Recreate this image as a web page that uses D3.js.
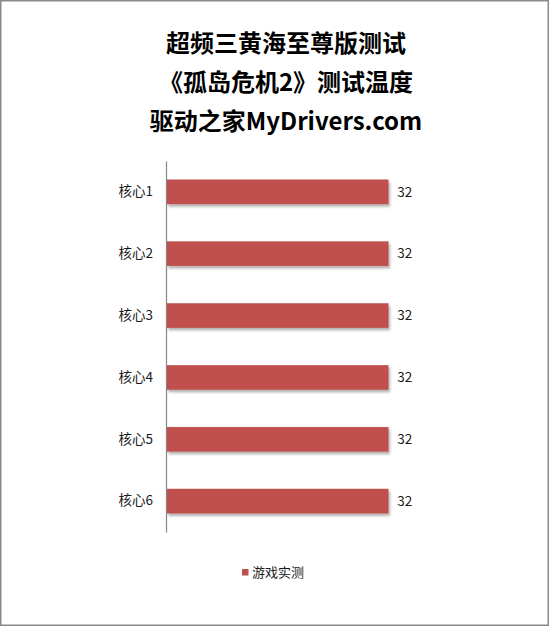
<!DOCTYPE html>
<html>
<head>
<meta charset="utf-8">
<script src="https://cdn.jsdelivr.net/npm/d3@7"></script>
<style>
  html, body { margin: 0; padding: 0; background: #fff; }
  text { font-family: "Noto Sans CJK SC", "Noto Sans", sans-serif; }
</style>
</head>
<body>
<div id="chart"></div>
<script>
// chart data
const titleLines = ["超频三黄海至尊版测试", "《孤岛危机2》测试温度", "驱动之家MyDrivers.com"];
const categories = ["核心1", "核心2", "核心3", "核心4", "核心5", "核心6"];
const values = [32, 32, 32, 32, 32, 32];
const seriesName = "游戏实测";

const width = 550, height = 627;
const margin = {top: 161, bottom: 95, left: 166, right: 141};
const barColor = "#C0504D";

const svg = d3.select("#chart").append("svg")
    .attr("width", width)
    .attr("height", height);

// soft shadow under bars
const defs = svg.append("defs");
const f = defs.append("filter").attr("id", "shadow")
    .attr("x", "-5%").attr("y", "-20%").attr("width", "115%").attr("height", "160%");
f.append("feDropShadow")
    .attr("dx", 1.5).attr("dy", 2.5).attr("stdDeviation", 1.2)
    .attr("flood-color", "#000").attr("flood-opacity", 0.3);

// outer frame
svg.append("rect")
    .attr("x", 0.75).attr("y", 0.75)
    .attr("width", width - 2.5).attr("height", height - 2.5)
    .attr("fill", "none")
    .attr("stroke", "#8a8a8a")
    .attr("stroke-width", 1.5);

// title
svg.append("g").selectAll("text")
    .data(titleLines)
    .enter().append("text")
    .attr("x", 286)
    .attr("y", (d, i) => 52 + i * 39)
    .attr("text-anchor", "middle")
    .attr("font-size", 24)
    .attr("font-weight", "bold")
    .attr("fill", "#000")
    .text(d => d);

let x = d3.scaleLinear()
    .domain([0, 35])
    .range([margin.left, width - margin.right]);

let y = d3.scaleBand()
    .domain(categories)
    .range([margin.top, height - margin.bottom])
    .paddingInner(0.61)
    .paddingOuter(0.305);

// bars
svg.append("g").selectAll("rect")
    .data(values)
    .enter().append("rect")
    .attr("x", x(0) + 1)
    .attr("y", (d, i) => y(categories[i]))
    .attr("width", d => x(d) - x(0) - 1)
    .attr("height", y.bandwidth())
    .attr("fill", barColor)
    .attr("stroke", "#b84a47")
    .attr("stroke-width", 0.5)
    .attr("filter", "url(#shadow)");

// value labels
svg.append("g").selectAll("text")
    .data(values)
    .enter().append("text")
    .attr("x", d => x(d) + 9)
    .attr("y", (d, i) => y(categories[i]) + y.bandwidth() / 2)
    .attr("dy", "0.35em")
    .attr("font-size", 13.5)
    .attr("fill", "#1a1a1a")
    .text(d => d);

// category axis
let yAxis = d3.axisLeft(y).tickSize(0).tickPadding(13);
let ga = svg.append("g")
    .attr("transform", `translate(${x(0)},0)`)
    .call(yAxis);
ga.select(".domain").attr("stroke", "#868686").attr("stroke-width", 1.2);
ga.selectAll("text")
    .attr("font-family", "\"Noto Sans CJK SC\", sans-serif")
    .attr("font-size", 13.5)
    .attr("fill", "#1a1a1a");

// legend
let lg = svg.append("g").attr("transform", "translate(242,569)");
lg.append("rect")
    .attr("width", 6.5).attr("height", 6.5)
    .attr("fill", barColor);
lg.append("text")
    .attr("x", 10)
    .attr("y", 3.5)
    .attr("dy", "0.35em")
    .attr("font-size", 13)
    .attr("fill", "#1a1a1a")
    .text(seriesName);
</script>
</body>
</html>
